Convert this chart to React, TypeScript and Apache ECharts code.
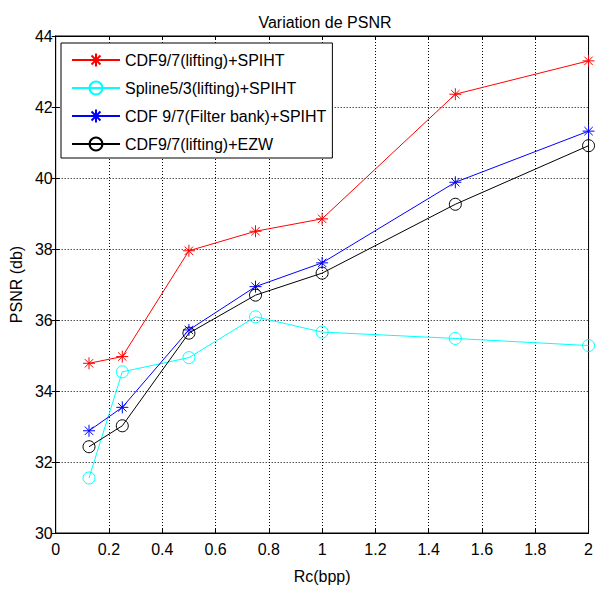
import React, { useEffect, useRef } from "react";
import * as echarts from "echarts";

const rates = [0.125, 0.25, 0.5, 0.75, 1, 1.5, 2];
const cdfLiftingSpiht = [34.78, 34.97, 37.95, 38.5, 38.85, 42.36, 43.3];
const splineLiftingSpiht = [31.55, 34.54, 34.94, 36.09, 35.66, 35.48, 35.28];
const cdfFilterBankSpiht = [32.88, 33.54, 35.72, 36.94, 37.61, 39.88, 41.32];
const cdfLiftingEzw = [32.43, 33.02, 35.63, 36.7, 37.32, 39.26, 40.91];
const seriesNames = [
  "CDF9/7(lifting)+SPIHT",
  "Spline5/3(lifting)+SPIHT",
  "CDF 9/7(Filter bank)+SPIHT",
  "CDF9/7(lifting)+EZW",
];

const STAR = "path://M0,-10L0,10M-10,0L10,0M-7,-7L7,7M-7,7L7,-7";
const FONT = "'Liberation Sans', Arial, sans-serif";

export default function App() {
  const ref = useRef<HTMLDivElement>(null);
  useEffect(() => {
    if (!ref.current) return;
    const chart = echarts.init(ref.current, undefined, { renderer: "svg" });
    const mk = (name: string, vals: number[], color: string, star: boolean) => ({
      name,
      type: "line",
      data: rates.map((r, i) => [r, vals[i]]),
      symbol: star ? STAR : "circle",
      symbolSize: 12,
      showSymbol: true,
      lineStyle: { color, width: 1 },
      itemStyle: { color: "transparent", borderColor: color, borderWidth: 1 },
      emphasis: { disabled: true },
    });
    chart.setOption({
      animation: false,
      textStyle: { fontFamily: FONT },
      title: {
        text: "Variation de PSNR",
        left: 320,
        top: 9,
        textAlign: "center",
        textStyle: { fontSize: 16, fontWeight: "normal", color: "#000", fontFamily: FONT },
      },
      legend: {
        orient: "vertical",
        left: 61,
        top: 43,
        padding: [9, 6, 6, 10],
        itemGap: 12,
        itemWidth: 48,
        itemHeight: 16,
        borderColor: "#000",
        borderWidth: 1,
        backgroundColor: "#fff",
        textStyle: { fontSize: 16, color: "#000", fontFamily: FONT },
        data: seriesNames,
      },
      grid: {
        left: 55,
        right: 4,
        top: 36,
        bottom: 57,
        show: true,
        borderColor: "#000",
        borderWidth: 1,
        backgroundColor: "#fff",
      },
      xAxis: [
        {
          type: "value",
          min: 0,
          max: 2,
          interval: 0.2,
          name: "Rc(bpp)",
          nameLocation: "middle",
          nameGap: 35,
          nameTextStyle: { fontSize: 16, color: "#000", fontFamily: FONT },
          axisLine: { lineStyle: { color: "#000", width: 1 } },
          axisTick: { inside: true, length: 4, lineStyle: { color: "#000" } },
          axisLabel: { fontSize: 16, color: "#000", margin: 8, fontFamily: FONT },
          splitLine: { show: true, lineStyle: { color: "#000", type: [1, 2], width: 1 } },
        },
        {
          type: "value",
          position: "top",
          min: 0,
          max: 2,
          interval: 0.2,
          axisLine: { lineStyle: { color: "#000", width: 1 } },
          axisTick: { inside: true, length: 4, lineStyle: { color: "#000" } },
          axisLabel: { show: false },
          splitLine: { show: false },
        },
      ],
      yAxis: [
        {
          type: "value",
          min: 30,
          max: 44,
          interval: 2,
          name: "PSNR (db)",
          nameLocation: "middle",
          nameGap: 30,
          nameTextStyle: { fontSize: 16, color: "#000", fontFamily: FONT },
          axisLine: { show: true, lineStyle: { color: "#000", width: 1 } },
          axisTick: { show: true, inside: true, length: 4, lineStyle: { color: "#000" } },
          axisLabel: { fontSize: 16, color: "#000", margin: 3, fontFamily: FONT },
          splitLine: { show: true, lineStyle: { color: "#000", type: [1, 2], width: 1 } },
        },
        {
          type: "value",
          position: "right",
          min: 30,
          max: 44,
          interval: 2,
          axisLine: { show: true, lineStyle: { color: "#000", width: 1 } },
          axisTick: { show: true, inside: true, length: 4, lineStyle: { color: "#000" } },
          axisLabel: { show: false },
          splitLine: { show: false },
        },
      ],
      series: [
        mk(seriesNames[0], cdfLiftingSpiht, "#ff0000", true),
        mk(seriesNames[1], splineLiftingSpiht, "#00ffff", false),
        mk(seriesNames[2], cdfFilterBankSpiht, "#0000ff", true),
        mk(seriesNames[3], cdfLiftingEzw, "#000000", false),
      ],
    });
    return () => chart.dispose();
  }, []);
  return (
    <div
      ref={ref}
      style={{ position: "fixed", left: 0, top: 0, width: 596, height: 590, background: "#fff" }}
    />
  );
}
